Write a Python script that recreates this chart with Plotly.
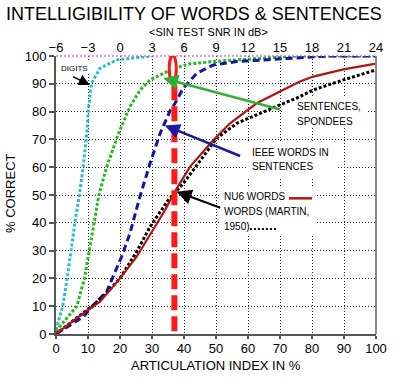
import plotly.graph_objects as go

# ---------------- data ----------------
ai_ticks = [0, 10, 20, 30, 40, 50, 60, 70, 80, 90, 100]
pct_ticks = [0, 10, 20, 30, 40, 50, 60, 70, 80, 90, 100]
snr_ticks = [-6, -3, 0, 3, 6, 9, 12, 15, 18, 21, 24]

digits_ai = [0, 2.1, 3.5, 4.6, 5.9, 7.3, 8.5, 9.6, 10.1, 11.1, 13.75, 19, 25, 30]
digits_pc = [1.5, 10, 20, 30, 40, 50, 60, 72, 80.6, 90.2, 95.6, 98.6, 99.5, 100]

sent_ai = [0, 3, 6.5, 8.9, 10.4, 11.7, 13.4, 15.8, 19.5, 23.1, 26.3, 29.4, 33.5, 36.7, 41.9, 51.3, 61.7, 75, 100]
sent_pc = [1, 5, 10, 20, 30, 40, 50, 60, 72, 81.8, 87.8, 91.4, 93.8, 95.5, 97.2, 98.2, 99, 100, 100]

ieee_ai = [0, 4, 8.5, 11.7, 15.8, 20.5, 23.1, 26, 29.4, 32.5, 35.6, 37.2, 39.8, 44, 49.2, 56.5, 66.9, 75, 85, 100]
ieee_pc = [0, 3, 6.2, 10.4, 15.2, 27.8, 36.2, 48.5, 61.4, 72.1, 80.2, 83, 88.5, 93.8, 96.8, 98, 98.8, 99.2, 100, 100]

nu6_ai = [0, 4, 8.5, 13.75, 20, 25.2, 29.4, 34.1, 37, 41.9, 49.2, 54.4, 62.7, 70, 76.25, 80.4, 89.8, 100]
nu6_pc = [0, 3.5, 7.4, 11.6, 20, 27.8, 35.6, 44.6, 51, 60.2, 69.8, 75.8, 83, 87.2, 90.8, 92.6, 95.2, 97.3]

martin_ai = [0, 4, 8.5, 11.7, 16, 20, 25.2, 29.4, 35.1, 39.8, 46, 50.2, 56.5, 64.8, 70, 76.25, 80.4, 89.8, 100]
martin_pc = [0, 3.5, 7.5, 10.4, 15, 20, 29.6, 38.6, 48.2, 54.2, 63.8, 70.4, 75.8, 80, 82.4, 85.4, 87.8, 91.4, 95]

ai_marker = 37  # vertical red marker (AI %)

FONT = "Liberation Sans, Arial, Helvetica, sans-serif"

fig = go.Figure()

fig.add_trace(go.Scatter(x=digits_ai, y=digits_pc, mode="lines",
                         line=dict(color="#2cbcc4", width=3, dash="3px,2px")))
fig.add_trace(go.Scatter(x=sent_ai, y=sent_pc, mode="lines",
                         line=dict(color="#22bb22", width=3, dash="3px,2px")))
fig.add_trace(go.Scatter(x=ieee_ai, y=ieee_pc, mode="lines",
                         line=dict(color="#1414a8", width=3, dash="7px,4px")))
fig.add_trace(go.Scatter(x=martin_ai, y=martin_pc, mode="lines",
                         line=dict(color="#000000", width=3, dash="3px,2px")))
fig.add_trace(go.Scatter(x=nu6_ai, y=nu6_pc, mode="lines",
                         line=dict(color="#b01414", width=2.2)))
# invisible trace to carry the top (SNR) axis
fig.add_trace(go.Scatter(x=snr_ticks, y=[None] * len(snr_ticks), xaxis="x2",
                         mode="lines", hoverinfo="skip"))

shapes = []
# white boxes hiding the grid behind the text blocks
for (x0, x1, y0, y1) in [(70.6, 97, 74.5, 85), (59.5, 88, 56.5, 69),
                         (51.5, 81.5, 35.5, 53), (1.5, 10.5, 93.5, 98)]:
    shapes.append(dict(type="rect", xref="x", yref="y", x0=x0, x1=x1, y0=y0, y1=y1,
                       fillcolor="white", line=dict(width=0), layer="between"))
# top border (magenta dotted) and right border
shapes.append(dict(type="line", xref="paper", yref="paper", x0=0, x1=1, y0=1, y1=1,
                   line=dict(color="#cc33cc", width=1.2, dash="2px,2px")))
shapes.append(dict(type="line", xref="paper", yref="paper", x0=1, x1=1, y0=0, y1=1,
                   line=dict(color="#8a8a8a", width=2)))
# legend keys
shapes.append(dict(type="line", xref="x", yref="y", x0=72.8, x1=80, y0=48.8, y1=48.8,
                   line=dict(color="#b01414", width=2.5)))
shapes.append(dict(type="line", xref="x", yref="y", x0=60.6, x1=69, y0=37.8, y1=37.8,
                   line=dict(color="#000000", width=2, dash="2px,2px")))
# red vertical marker
shapes.append(dict(type="line", xref="x", yref="y", x0=ai_marker, x1=ai_marker, y0=1, y1=92,
                   line=dict(color="#ff1a1a", width=6, dash="15px,6px")))
shapes.append(dict(type="circle", xref="x", yref="y", x0=ai_marker - 1.6, x1=ai_marker + 0.6,
                   y0=90.8, y1=100.2, fillcolor="white",
                   line=dict(color="#ff1a1a", width=3)))

anns = []
# titles
anns.append(dict(text="INTELLIGIBILITY OF WORDS &amp; SENTENCES", xref="paper", yref="paper",
                 x=0.431, y=1.151, showarrow=False, xanchor="center", yanchor="middle",
                 font=dict(family=FONT, size=18, color="black")))
anns.append(dict(text="&lt;SIN TEST SNR IN dB&gt;", xref="paper", yref="paper",
                 x=0.478, y=1.086, showarrow=False, xanchor="center", yanchor="middle",
                 font=dict(family=FONT, size=11, color="black")))
anns.append(dict(text="ARTICULATION INDEX IN %", xref="paper", yref="paper",
                 x=0.5, y=-0.115, showarrow=False, xanchor="center", yanchor="middle",
                 font=dict(family=FONT, size=13, color="black")))
anns.append(dict(text="% CORRECT", xref="paper", yref="paper", textangle=-90,
                 x=-0.144, y=0.507, showarrow=False, xanchor="center", yanchor="middle",
                 font=dict(family=FONT, size=13, color="black")))

# text labels
def lab(t, x, y, size=10):
    anns.append(dict(text=t, xref="x", yref="y", x=x, y=y, showarrow=False,
                     xanchor="left", yanchor="middle",
                     font=dict(family=FONT, size=size, color="black")))

lab("SENTENCES,", 74.7, 81.8)
lab("SPONDEES", 74.7, 76.6)
lab("IEEE WORDS IN", 60.6, 65.4)
lab("SENTENCES", 60.6, 60.2)
lab("NU6 WORDS", 51.8, 49.4)
lab("WORDS (MARTIN,", 51.8, 44)
lab("1950)", 51.8, 38.8)
anns.append(dict(text="DIGITS", xref="x", yref="y", x=5.9, y=95.6, showarrow=False,
                 xanchor="center", yanchor="middle",
                 font=dict(family=FONT, size=8, color="black")))

# arrows
def arrow(tip, tail, color, width, size=1.2):
    anns.append(dict(text="", x=tip[0], y=tip[1], ax=tail[0], ay=tail[1],
                     xref="x", yref="y", axref="x", ayref="y", showarrow=True,
                     arrowhead=2, arrowsize=size, arrowwidth=width, arrowcolor=color,
                     standoff=0, startstandoff=0))

arrow((33.5, 92), (70.5, 80.6), "#30b030", 2.5)
arrow((34, 75), (58, 63.8), "#1a1aa0", 2.5)
arrow((37.7, 51.2), (51.8, 45.2), "#000000", 2, 1.5)
arrow((10.6, 89.6), (4.9, 92.8), "#000000", 1.5, 1.5)

fig.update_layout(
    width=410, height=380,
    margin=dict(l=56, r=34, t=56, b=46),
    paper_bgcolor="white", plot_bgcolor="white",
    showlegend=False,
    font=dict(family=FONT, size=13, color="black"),
    shapes=shapes, annotations=anns,
    xaxis=dict(range=[0, 100], tickvals=ai_ticks, showgrid=True, gridcolor="#222",
               griddash="1px,2px", gridwidth=1, zeroline=False,
               showline=True, linecolor="#555", linewidth=2,
               ticks="outside", ticklen=3, tickcolor="#555", tickwidth=1.5,
               ticklabelstandoff=-2,
               tickfont=dict(family=FONT, size=13, color="black")),
    xaxis2=dict(range=[-6, 24], tickvals=snr_ticks, overlaying="x", side="top",
                showgrid=False, zeroline=False, showline=False, ticks="",
                tickfont=dict(family=FONT, size=13, color="black")),
    yaxis=dict(range=[0, 100], tickvals=pct_ticks, showgrid=True, gridcolor="#222",
               griddash="1px,2px", gridwidth=1, zeroline=False,
               showline=True, linecolor="#555", linewidth=2,
               ticks="outside", ticklen=5, tickcolor="#555", tickwidth=1.5,
               tickfont=dict(family=FONT, size=13, color="black")),
)

fig.write_html("out.html", config={"displayModeBar": False},
               post_script="document.body.style.margin='0';document.body.style.padding='0';")
